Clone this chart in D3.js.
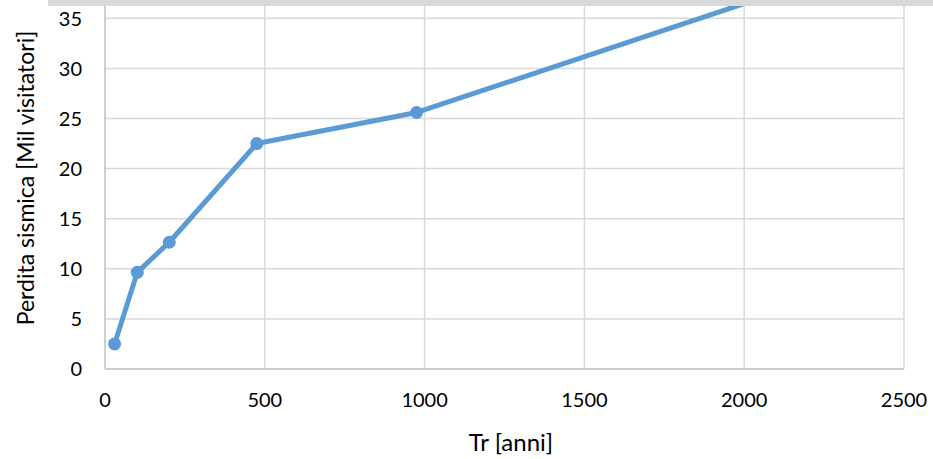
<!DOCTYPE html>
<html>
<head>
<meta charset="utf-8">
<script src="https://cdn.jsdelivr.net/npm/d3@7"></script>
<style>
  body { margin: 0; background: #fff; }
  text { font-family: Lato, "Open Sans", sans-serif; fill: #000; }
</style>
</head>
<body>
<div id="host"><svg></svg></div>
<script>
const WIDTH = 933;
const HEIGHT = 459;

const BLUE = "#5b9bd5";
const GRID = "#d9d9d9";
const AXIS = "#bfbfbf";

// Tr [anni] vs perdita sismica [Mil visitatori]
const tr = [30, 101, 201, 475, 975, 2475];
const loss = [2.5, 9.65, 12.65, 22.5, 25.6, 41.5];

const xTicks = [0, 500, 1000, 1500, 2000, 2500];
const yTicks = [0, 5, 10, 15, 20, 25, 30, 35];

const M = { left: 105, right: 904, bottom: 369 };

function draw() {
  const svg = d3.select("#host svg")
    .attr("width", WIDTH)
    .attr("height", HEIGHT);

  const x = d3.scaleLinear().domain([0, 2500]).range([M.left, M.right]);
  const y = d3.scaleLinear().domain([0, 35]).range([M.bottom, 18.3]);

  const defs = svg.append("defs");
  defs.append("clipPath").attr("id", "plot-clip")
    .append("rect")
    .attr("x", M.left - 10).attr("y", 0)
    .attr("width", M.right - M.left + 20).attr("height", M.bottom + 10);

  // grid
  const grid = svg.append("g");
  grid.selectAll("line.h")
    .data(yTicks.slice(1))
    .join("line")
    .attr("x1", M.left).attr("x2", M.right)
    .attr("y1", (d) => y(d)).attr("y2", (d) => y(d))
    .attr("stroke", GRID).attr("stroke-width", 1.5);
  grid.selectAll("line.v")
    .data(xTicks.slice(1))
    .join("line")
    .attr("x1", (d) => x(d)).attr("x2", (d) => x(d))
    .attr("y1", 0).attr("y2", M.bottom)
    .attr("stroke", GRID).attr("stroke-width", 1.5);

  // axes lines
  svg.append("line")
    .attr("x1", M.left).attr("x2", M.left)
    .attr("y1", 0).attr("y2", M.bottom)
    .attr("stroke", AXIS).attr("stroke-width", 1.5);
  svg.append("line")
    .attr("x1", M.left).attr("x2", M.right)
    .attr("y1", M.bottom).attr("y2", M.bottom)
    .attr("stroke", AXIS).attr("stroke-width", 1.5);

  // tick labels
  svg.append("g").selectAll("text")
    .data(yTicks)
    .join("text")
    .attr("x", 82)
    .attr("y", (d) => y(d))
    .attr("dy", "0.36em")
    .attr("text-anchor", "end")
    .attr("font-size", 20)
    .text((d) => d);

  svg.append("g").selectAll("text")
    .data(xTicks)
    .join("text")
    .attr("x", (d) => x(d))
    .attr("y", 407)
    .attr("text-anchor", "middle")
    .attr("font-size", 20)
    .text((d) => d);

  // titles
  svg.append("text")
    .attr("x", 511)
    .attr("y", 451)
    .attr("text-anchor", "middle")
    .attr("font-size", 24)
    .text("Tr [anni]");

  svg.append("text")
    .attr("transform", "translate(34,178) rotate(-90)")
    .attr("text-anchor", "middle")
    .attr("font-size", 23)
    .text("Perdita sismica [Mil visitatori]");

  // series
  const pts = tr.map((t, i) => [t, loss[i]]);
  const plot = svg.append("g").attr("clip-path", "url(#plot-clip)");
  plot.append("path")
    .datum(pts)
    .attr("fill", "none")
    .attr("stroke", BLUE)
    .attr("stroke-width", 5)
    .attr("stroke-linejoin", "round")
    .attr("d", d3.line().x((d) => x(d[0])).y((d) => y(d[1])));
  plot.selectAll("circle")
    .data(pts)
    .join("circle")
    .attr("cx", (d) => x(d[0]))
    .attr("cy", (d) => y(d[1]))
    .attr("r", 6.5)
    .attr("fill", BLUE);

  // top strip
  svg.append("rect")
    .attr("x", 48).attr("y", 0)
    .attr("width", WIDTH - 48).attr("height", 6)
    .attr("fill", "#d9d9d9");
}

draw();
</script>
</body>
</html>
